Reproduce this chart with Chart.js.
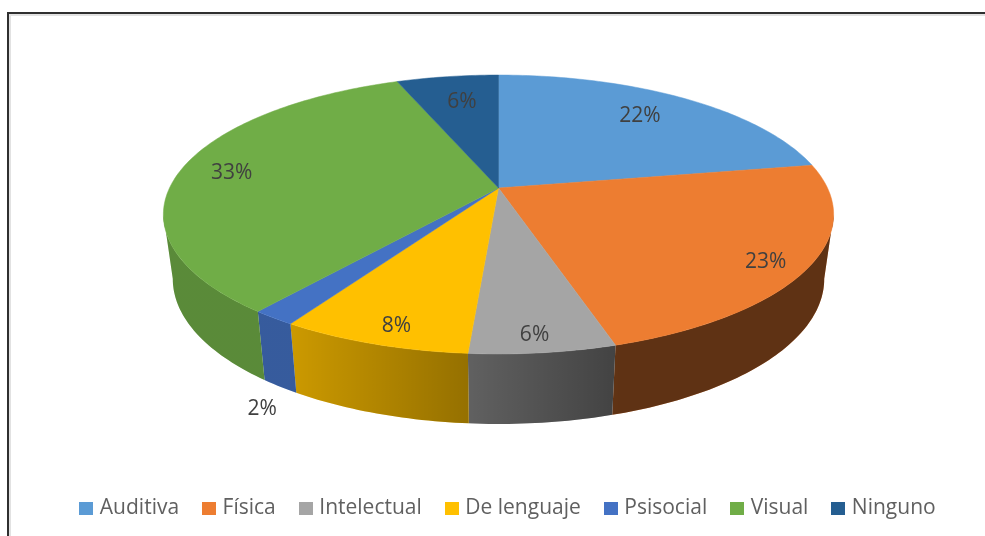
<!DOCTYPE html>
<html><head><meta charset="utf-8">
<style>html,body{margin:0;padding:0;background:#fff}#w{width:985px;height:536px;position:relative}</style>
<script src="https://cdn.jsdelivr.net/npm/chart.js@4"></script>
</head><body><div id="w"><canvas id="c" width="985" height="536"></canvas></div>
<script>
const categories = ['Auditiva','Física','Intelectual','De lenguaje','Psisocial','Visual','Ninguno'];
const shares = [22.2,23.1,5.9,7.7,1.8,33.4,5.9];
const colors = ['#5b9bd5','#ed7d31','#a5a5a5','#ffc000','#4472c4','#70ad47','#255e91'];
const labelRadius = [0.78,0.883,0.90,0.89,1.36,0.84,0.76];
const labelTurnDeg = [-2,1.9,0.5,-1.2,-11.5,0,1];

const FONT = '"Open Sans", sans-serif';
const view = {cx:498.5, A:329, a:98.7, c:188, d:-0.19, shrink:0.972, depth:63, depthFront:7, minV:0.19};
function project(alpha, r){
  const u = r*Math.cos(alpha), v = r*Math.sin(alpha), den = 1+view.d*v;
  return {x:view.cx+view.A*u/den, y:(view.a*v+view.c)/den, v};
}
function lower(p){
  return {x:view.cx+view.shrink*(p.x-view.cx), y:p.y+view.depth+view.depthFront*p.v};
}
function samples(a0,a1){
  const n = Math.max(2,Math.ceil((a1-a0)/(Math.PI/180))), out=[];
  for(let i=0;i<=n;i++) out.push(a0+(a1-a0)*i/n);
  return out;
}
function swatch(color){
  const c = document.createElement('canvas');
  c.width = 14; c.height = 13;
  const x = c.getContext('2d');
  x.fillStyle = color; x.fillRect(0,0,14,13);
  return c;
}
class Arc3D extends Chart.ArcElement {
  static id = 'arc3d';
  draw(ctx){
    const color = this.options.backgroundColor;
    const s = this.startAngle, e = this.endAngle;
    const lim0 = Math.asin(view.minV), lim1 = Math.PI-lim0;
    // side wall, front part only
    [0,2*Math.PI,-2*Math.PI].forEach(off=>{
      const w0 = Math.max(s+off,lim0), w1 = Math.min(e+off,lim1);
      if(w1<=w0) return;
      const top = samples(w0,w1).map(t=>project(t,1));
      const low = top.map(lower).reverse();
      const path = new Path2D();
      top.concat(low).forEach((p,i)=> i?path.lineTo(p.x,p.y):path.moveTo(p.x,p.y));
      path.closePath();
      ctx.save();
      ctx.fillStyle = color; ctx.fill(path);
      const g = ctx.createLinearGradient(290,0,620,0);
      g.addColorStop(0,'rgba(0,0,0,0.2)'); g.addColorStop(1,'rgba(0,0,0,0.6)');
      ctx.fillStyle = g; ctx.fill(path);
      ctx.restore();
    });
    // top face
    const c = project(0,0);
    ctx.save();
    ctx.beginPath(); ctx.moveTo(c.x,c.y);
    samples(s,e).forEach(t=>{const p=project(t,1); ctx.lineTo(p.x,p.y);});
    ctx.closePath();
    ctx.fillStyle = color; ctx.strokeStyle = color; ctx.lineWidth = 0.5;
    ctx.fill(); ctx.stroke();
    ctx.restore();
  }
}
class Pie3D extends Chart.PieController {
  static id = 'pie3d';
  static defaults = {dataElementType:'arc3d'};
  static overrides = Chart.PieController.overrides;
}
Chart.register(Arc3D,Pie3D);

const frame = {id:'frame', beforeDraw(ch){
  const {ctx,width,height} = ch;
  ctx.save();
  ctx.fillStyle='#e2e2e2';
  ctx.fillRect(9,14,width-9,2); ctx.fillRect(9,14,2,height-14);
  ctx.fillStyle='#2f2f2f';
  ctx.fillRect(7,12,width-7,2); ctx.fillRect(7,12,2,height-12);
  ctx.restore();
}};
const pctLabels = {id:'pctLabels', afterDatasetsDraw(ch){
  const {ctx} = ch, total = shares.reduce((a,b)=>a+b,0);
  ch.getDatasetMeta(0).data.forEach((arc,i)=>{
    const mid = (arc.startAngle+arc.endAngle)/2+labelTurnDeg[i]*Math.PI/180;
    const p = project(mid,labelRadius[i]);
    ctx.save();
    ctx.font = '21px '+FONT; ctx.fillStyle='#404040';
    ctx.textAlign='center'; ctx.textBaseline='middle';
    ctx.fillText(Math.round(shares[i]/total*100)+'%',p.x,p.y+2);
    ctx.restore();
  });
}};
new Chart(document.getElementById('c'),{
  type:'pie3d',
  data:{labels:categories,datasets:[{data:shares,backgroundColor:colors,borderWidth:0}]},
  options:{
    responsive:false,animation:false,
    layout:{padding:{bottom:7,left:34}},
    plugins:{
      tooltip:{enabled:false},
      legend:{position:'bottom',labels:{
        usePointStyle:true,pointStyleWidth:6,padding:27,color:'#606060',
        font:{family:'"Open Sans", sans-serif',size:21},
        generateLabels(ch){
          return Chart.PieController.overrides.plugins.legend.labels.generateLabels(ch)
            .map((it,i)=>Object.assign(it,{pointStyle:swatch(colors[i])}));
        }
      }}
    }
  },
  plugins:[frame,pctLabels]
});
</script></body></html>
